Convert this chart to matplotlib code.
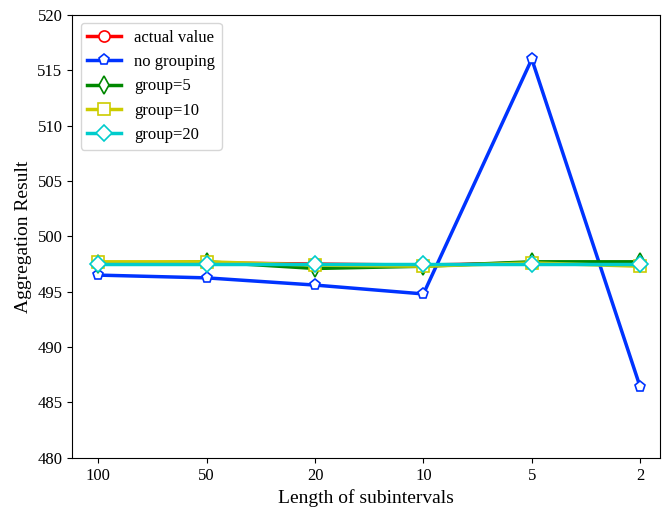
import matplotlib.pyplot as plt

plt.rcParams['font.family'] = ['Liberation Serif', 'DejaVu Serif']

intervals = ['100', '50', '20', '10', '5', '2']
actual_value = [497.6, 497.6, 497.5, 497.4, 497.6, 497.5]
no_grouping = [496.5, 496.25, 495.6, 494.8, 516.0, 486.4]
group5 = [497.5, 497.7, 497.1, 497.3, 497.7, 497.7]
group10 = [497.7, 497.7, 497.4, 497.3, 497.6, 497.3]
group20 = [497.5, 497.5, 497.5, 497.5, 497.5, 497.5]

fig = plt.figure(figsize=(6.63, 5.11), dpi=100)
ax = fig.add_axes([0.109, 0.104, 0.886, 0.867])
x = range(len(intervals))

ax.plot(x, actual_value, color='#ff0000', marker='o', lw=2.5, ms=8, mfc='white', mew=1.2, label='actual value')
ax.plot(x, no_grouping, color='#0033ff', marker='p', lw=2.5, ms=8, mfc='white', mew=1.2, label='no grouping')
ax.plot(x, group5, color='#008800', marker='d', lw=2.5, ms=9, mfc='white', mew=1.2, label='group=5')
ax.plot(x, group10, color='#cccc00', marker='s', lw=2.5, ms=8, mfc='white', mew=1.2, label='group=10')
ax.plot(x, group20, color='#00cccc', marker='D', lw=2.5, ms=8, mfc='white', mew=1.2, label='group=20')

ax.set_xticks(list(x))
ax.set_xticklabels(intervals)
ax.set_xlim(-0.24, 5.18)
ax.set_ylim(480, 520)
ax.tick_params(labelsize=12)
ax.set_xlabel('Length of subintervals', fontsize=14)
ax.set_ylabel('Aggregation Result', fontsize=14)
ax.legend(loc='upper left', fontsize=12)

plt.savefig('out.png', dpi=100)
